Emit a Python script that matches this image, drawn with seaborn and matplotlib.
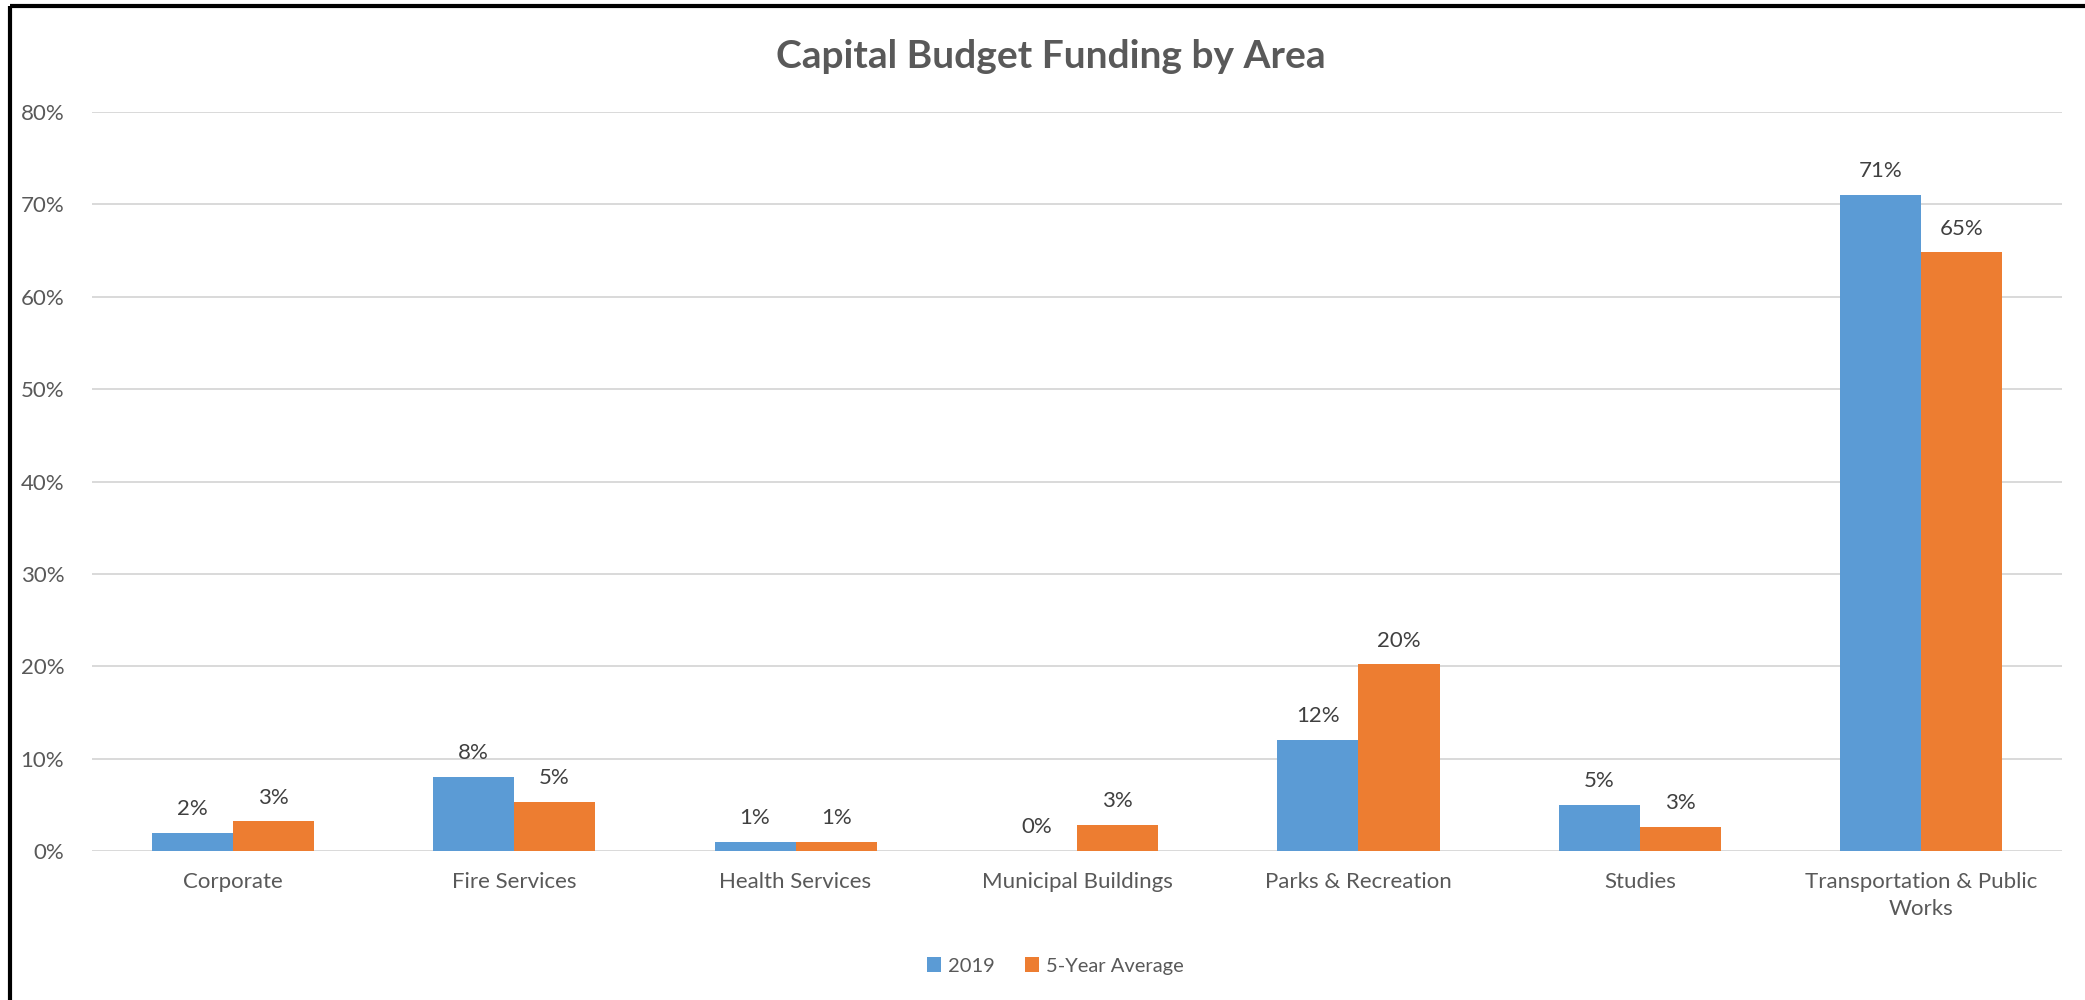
import matplotlib
matplotlib.use("Agg")
import matplotlib.pyplot as plt
from matplotlib.lines import Line2D
from matplotlib.patches import Patch
import pandas as pd
import seaborn as sns

# Share of capital budget by area (percent)
areas = ["Corporate", "Fire Services", "Health Services", "Municipal Buildings",
         "Parks & Recreation", "Studies", "Transportation & Public\nWorks"]
share_2019 = [2.0, 8.0, 1.0, 0.0, 12.0, 5.0, 71.0]
share_5yr = [3.2, 5.3, 1.0, 2.8, 20.2, 2.6, 64.8]
series_names = ["2019", "5-Year Average"]
y_ticks = [0, 10, 20, 30, 40, 50, 60, 70, 80]

colors = ["#5B9BD5", "#ED7D31"]

sns.set_theme(style="white")
plt.rcParams["font.family"] = ["Lato", "DejaVu Sans"]

df = pd.DataFrame({
    "area": areas * 2,
    "share": share_2019 + share_5yr,
    "series": [series_names[0]] * len(areas) + [series_names[1]] * len(areas),
})

fig = plt.figure(figsize=(20.85, 10), dpi=100)
ax = fig.add_axes([0.0441, 0.149, 0.9449, 0.739])

sns.barplot(data=df, x="area", y="share", hue="series", palette=colors,
            width=0.576, gap=0, saturation=1, ax=ax, legend=False,
            edgecolor="none", linewidth=0)

ax.set_ylim(0, 80)
ax.set_xlim(-0.5, len(areas) - 0.5)
ax.set_yticks(y_ticks)
ax.set_yticklabels([f"{t}%" for t in y_ticks])
ax.yaxis.grid(True, color="#D9D9D9", linewidth=1.4)
ax.set_axisbelow(True)
for s in ax.spines.values():
    s.set_visible(False)
ax.set_xlabel("")
ax.set_ylabel("")
ax.tick_params(axis="both", length=0, labelsize=16, labelcolor="#595959")
ax.tick_params(axis="x", pad=15)
ax.tick_params(axis="y", pad=20)
for lbl in ax.get_xticklabels():
    lbl.set_linespacing(1.45)

for cont in ax.containers:
    vals = cont.datavalues
    ax.bar_label(cont, labels=[f"{v:.0f}%" for v in vals], padding=10,
                 fontsize=16, color="#404040")

fig.text(0.504, 0.944, "Capital Budget Funding by Area", ha="center", va="center",
         fontsize=28, fontweight="bold", color="#595959")

handles = [Patch(facecolor=c, edgecolor="none") for c in colors]
fig.legend(handles, series_names, loc="center", bbox_to_anchor=(0.506, 0.034),
           ncol=2, frameon=False, fontsize=14.5, handlelength=0.7, handleheight=0.7,
           handletextpad=0.35, columnspacing=1.5, labelcolor="#595959")

# Outer frame edges (top and left)
fig.add_artist(Line2D([0.0048, 1.0], [0.994, 0.994], transform=fig.transFigure,
                      color="black", linewidth=3.0, solid_capstyle="butt"))
fig.add_artist(Line2D([0.0048, 0.0048], [0.0, 0.994], transform=fig.transFigure,
                      color="black", linewidth=3.0, solid_capstyle="butt"))

fig.savefig("out.png", dpi=100, facecolor="white")
